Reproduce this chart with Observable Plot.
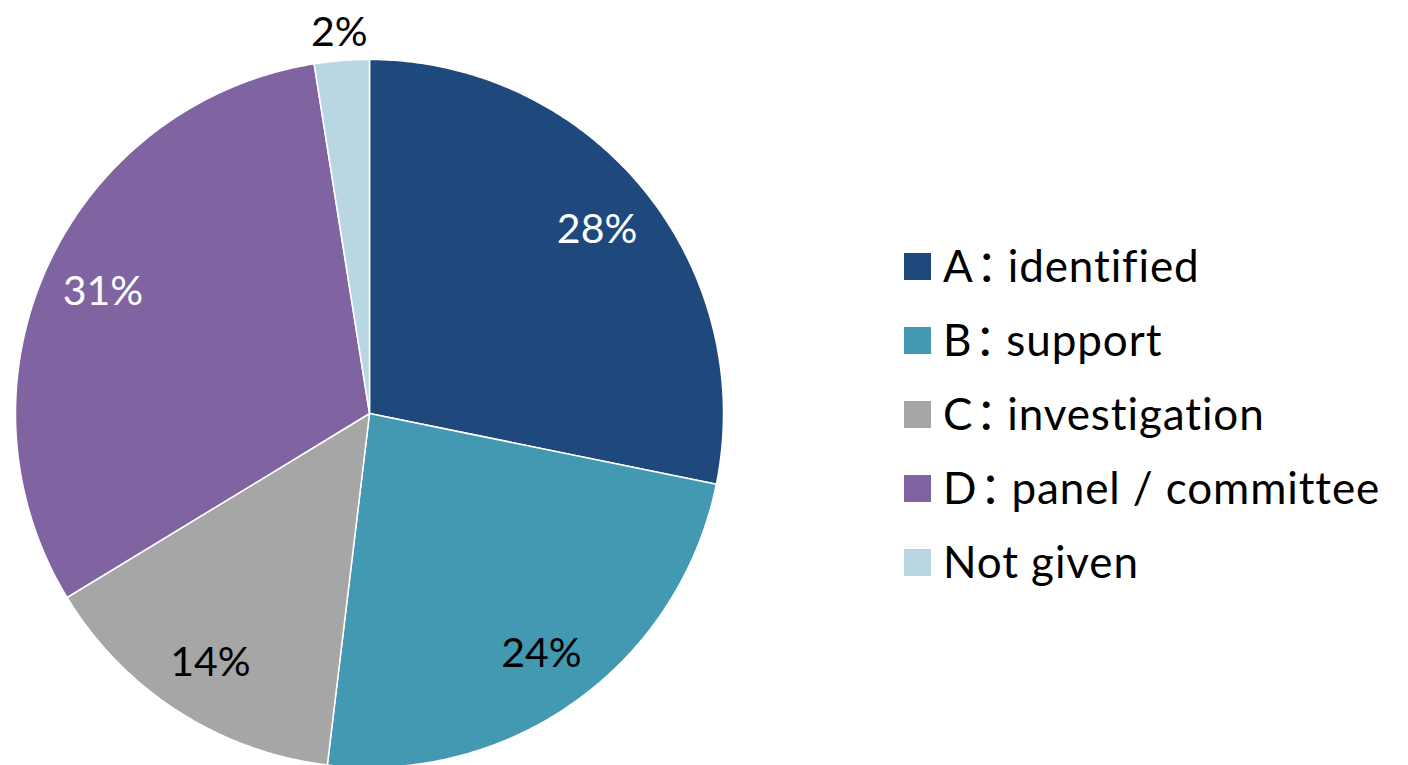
<!DOCTYPE html>
<html>
<head>
<meta charset="utf-8">
<script src="https://cdn.jsdelivr.net/npm/d3@7"></script>
<script src="https://cdn.jsdelivr.net/npm/@observablehq/plot@0.6"></script>
<style>
  html, body { margin: 0; padding: 0; background: #fff; overflow: hidden; }
  #wrap { position: relative; width: 1408px; height: 765px; }
  #chart { position: absolute; left: 0; top: 0; }
  .lg-row { position: absolute; left: 904px; height: 44px; font-family: Lato, "Noto Sans CJK SC", sans-serif; font-size: 44px; line-height: 44px; color: #000; white-space: nowrap; font-variant-ligatures: none; }
  .lg-sw { position: absolute; left: 0; width: 27px; height: 27px; }
  .lg-tx { position: absolute; left: 39px; top: 0; letter-spacing: 0.9px; }
  .lg-colon { margin-left: 2px; letter-spacing: -12px; }
</style>
</head>
<body>
<div id="wrap"><div id="chart"></div></div>
<script>
// ---- data ----
const categories = ["A：identified", "B：support", "C：investigation", "D：panel / committee", "Not given"];
const values = [28.2, 23.7, 14.4, 31.2, 2.5];
const labels = ["28%", "24%", "14%", "31%", "2%"];

// ---- styles ----
const colors = ["#1f497d", "#4399b1", "#a6a6a6", "#8064a2", "#b8d7e3"];
const whiteLabelCats = new Set([categories[0], categories[3]]);

// ---- build slice geometry from values ----
const total = d3.sum(values);
const slices = [];
const labelRows = [];
let cum = 0;
categories.forEach((cat, i) => {
  const a0 = cum / total * 2 * Math.PI;
  cum += values[i];
  const a1 = cum / total * 2 * Math.PI;
  slices.push({cat, x: 0, y: 0});
  const n = Math.max(2, Math.ceil((a1 - a0) / (Math.PI / 360)));
  for (let k = 0; k <= n; k++) {
    const a = a0 + (a1 - a0) * k / n;
    slices.push({cat, x: Math.sin(a), y: Math.cos(a)});
  }
  const am = (a0 + a1) / 2;
  const r = values[i] / total < 0.05 ? 1.085 : 0.83;
  labelRows.push({cat, label: labels[i], x: r * Math.sin(am), y: r * Math.cos(am)});
});

const cx = 369, cy = 413, R = 354;
const plot = Plot.plot({
  width: 1408,
  height: 765,
  margin: 0,
  x: {domain: [-1, 1], range: [cx - R, cx + R], axis: null},
  y: {domain: [-1, 1], range: [cy + R, cy - R], axis: null},
  color: {domain: categories, range: colors},
  style: {overflow: "hidden", background: "transparent"},
  marks: [
    Plot.line(slices, {x: "x", y: "y", z: "cat", fill: "cat", stroke: "#ffffff", strokeWidth: 1.5, curve: "linear-closed"}),
    Plot.text(labelRows, {
      x: "x", y: "y", text: "label",
      fill: d => whiteLabelCats.has(d.cat) ? "#ffffff" : "#000000",
      fontSize: 41, fontFamily: "Lato, sans-serif", textAnchor: "middle", lineAnchor: "middle", dy: 2
    })
  ]
});
document.getElementById("chart").appendChild(plot);

// ---- legend ----
const wrap = document.getElementById("wrap");
categories.forEach((cat, i) => {
  const row = document.createElement("div");
  row.className = "lg-row";
  row.style.top = (243 + i * 74) + "px";
  const sw = document.createElement("div");
  sw.className = "lg-sw";
  sw.style.background = colors[i];
  sw.style.top = "10px";
  const tx = document.createElement("div");
  tx.className = "lg-tx";
  const parts = cat.split("：");
  if (parts.length === 2) {
    tx.appendChild(document.createTextNode(parts[0]));
    const c = document.createElement("span");
    c.className = "lg-colon";
    c.textContent = "：";
    tx.appendChild(c);
    tx.appendChild(document.createTextNode(parts[1]));
  } else {
    tx.textContent = cat;
  }
  row.appendChild(sw);
  row.appendChild(tx);
  wrap.appendChild(row);
});
</script>
</body>
</html>
